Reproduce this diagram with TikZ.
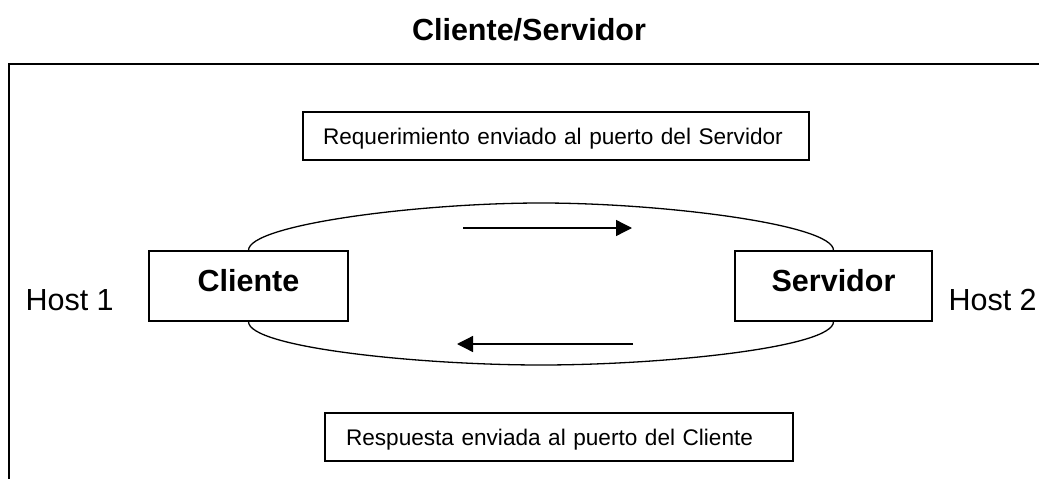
\documentclass[tikz,border=0pt]{standalone}
\usepackage{fontspec}
\setmainfont{Liberation Sans}
\usetikzlibrary{arrows.meta}
\tikzset{
  bigbold/.style={font=\fontsize{30.5}{36}\selectfont\bfseries},
  bigreg/.style={font=\fontsize{30.5}{36}\selectfont},
  hostbox/.style={draw, line width=1.3pt, bigbold, minimum height=70pt, inner sep=0pt, text height=22pt, text depth=12pt},
  msgbox/.style={draw, line width=1.5pt, font=\fontsize{22.6}{27}\selectfont, minimum height=48pt, inner ysep=0pt, text height=16pt, text depth=0pt, align=left},
  flow/.style={line width=1.3pt, -{Triangle[length=16pt,width=16pt]}},
  loop/.style={line width=1.3pt},
  frame/.style={line width=2pt}
}
\begin{document}
\begin{tikzpicture}[x=1pt,y=-1pt]
\useasboundingbox (0,0) rectangle (1039,479);
\node[bigbold, anchor=base] (title) at (529,40) {Cliente/Servidor};
\coordinate (fbl) at (9,479);
\coordinate (ftl) at (9,64);
\coordinate (ftr) at (1039,64);
\draw[frame] (fbl) -- (ftl) -- (ftr);

\node[msgbox, minimum width=506pt, text width=466pt, inner xsep=20pt] (req) at (556,136) {Requerimiento enviado al puerto del Servidor};
\node[msgbox, minimum width=468pt, text width=426pt, inner xsep=21pt] (resp) at (559,437) {Respuesta enviada al puerto del Cliente};

\node[hostbox, minimum width=199pt] (cliente) at (248.5,286) {Cliente};
\node[hostbox, minimum width=197pt] (servidor) at (833.5,286) {Servidor};

\node[bigreg, anchor=base west] (host1) at (22,310) {Host 1};
\node[bigreg, anchor=base west] (host2) at (945,310) {Host 2};

\coordinate (topmid) at (541,203);
\coordinate (botmid) at (541,365);
\draw[loop] (cliente.north) .. controls +(0,-26) and (420,203) .. (topmid)
            .. controls (662,203) and +(0,-26) .. (servidor.north);
\draw[loop] (cliente.south) .. controls +(0,26) and (420,365) .. (botmid)
            .. controls (662,365) and +(0,26) .. (servidor.south);

\coordinate (a1s) at (463,228);
\coordinate (a1e) at (632,228);
\coordinate (a2s) at (633,344);
\coordinate (a2e) at (457,344);
\draw[flow] (a1s) -- (a1e);
\draw[flow] (a2s) -- (a2e);
\end{tikzpicture}
\end{document}
